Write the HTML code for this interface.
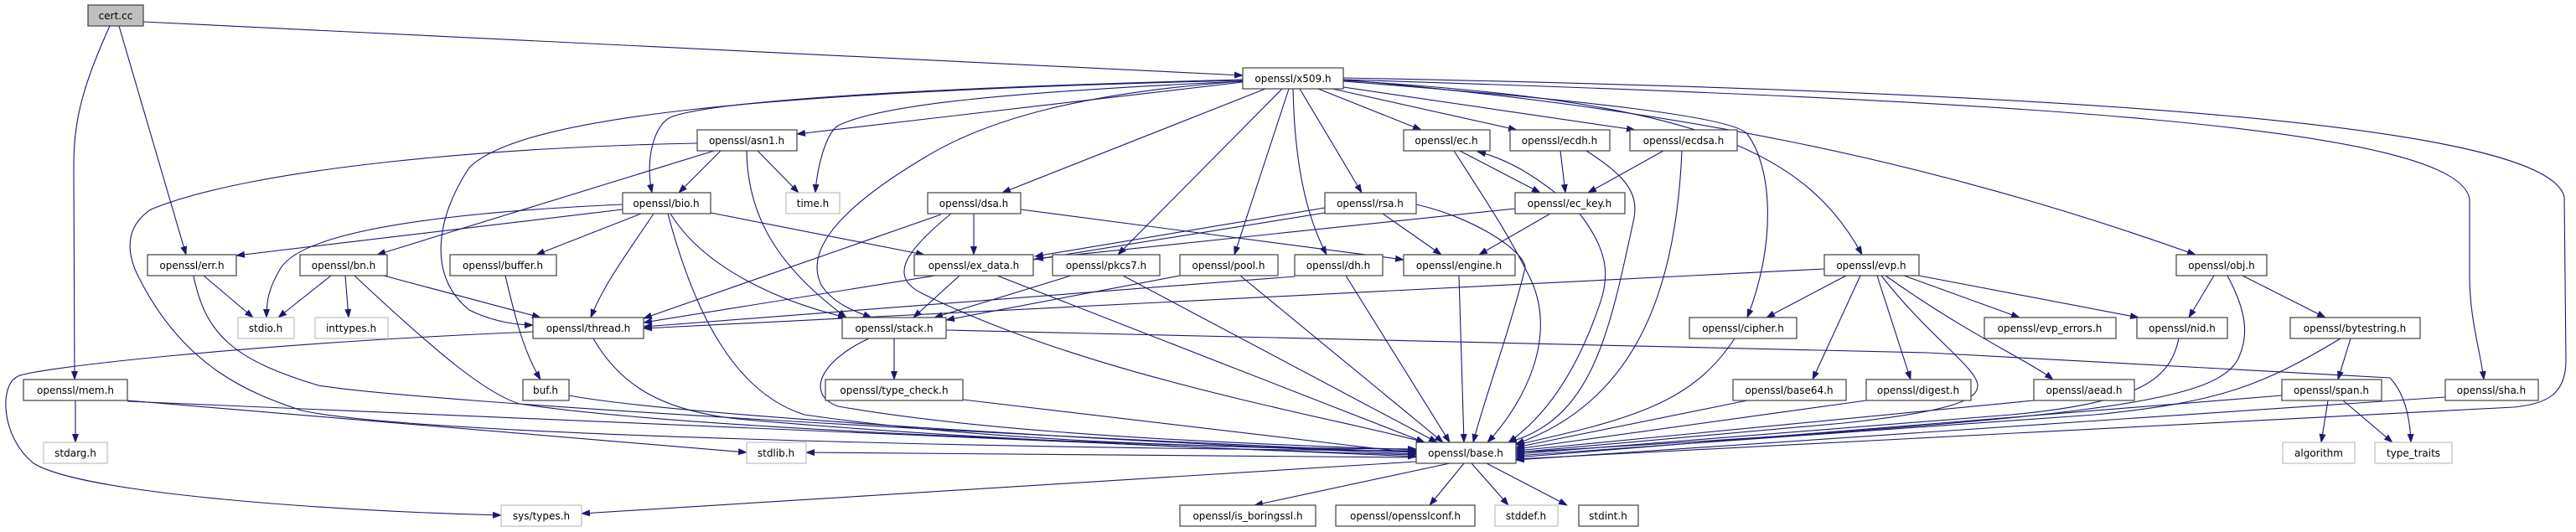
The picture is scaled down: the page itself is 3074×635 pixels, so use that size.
<!DOCTYPE html>
<html><head><meta charset="utf-8"><style>
html,body{margin:0;padding:0;background:#fff;}
svg{display:block;}
text{font-family:"DejaVu Sans","Liberation Sans",sans-serif;font-size:12px;fill:#000;}
</style></head><body>
<svg width="3074" height="635" viewBox="0 0 3074 635" xmlns="http://www.w3.org/2000/svg">
<defs><marker id="a" markerWidth="11" markerHeight="8" refX="10" refY="4" orient="auto" markerUnits="userSpaceOnUse"><path d="M0,0 L11,4 L0,8 z" fill="#191970"/></marker></defs>
<g fill="none" stroke="#191970" stroke-width="1.1" marker-end="url(#a)">
<path d="M171,26 L1483,90"/>
<path d="M142,31 L222,304"/>
<path d="M131,31 C95,110 88,150 88,200 L89,453"/>
<path d="M1483,98 L951,160"/>
<path d="M1483,95 C1100,105 850,120 800,140 C780,150 770,190 778,230"/>
<path d="M1483,97 C1200,110 1050,125 1000,150 C985,160 975,200 973,230"/>
<path d="M1483,96 C900,110 620,140 560,200 C520,260 510,330 560,370 C590,385 620,388 636,388"/>
<path d="M1483,97 C1300,110 1180,140 1100,190 C1000,250 960,300 980,340 C995,365 1030,375 1040,379"/>
<path d="M1510,106 L1196,230"/>
<path d="M1530,106 L1334,304"/>
<path d="M1538,106 L1473,304"/>
<path d="M1543,106 C1545,200 1560,260 1583,304"/>
<path d="M1551,106 L1625,230"/>
<path d="M1573,106 L1696,155"/>
<path d="M1590,106 L1810,155"/>
<path d="M1603,104 L1951,155"/>
<path d="M1603,97 C1900,120 2070,140 2085,160 C2115,200 2120,290 2085,379"/>
<path d="M1603,96 C2000,120 2150,170 2222,304"/>
<path d="M1603,95 C2000,130 2300,190 2620,304"/>
<path d="M1603,95 C2400,120 2940,150 2947,239 L2947,330 C2947,380 2960,420 2964,453"/>
<path d="M1603,93 C2500,110 3040,150 3060,235 L3062,430 C3062,470 3040,482 3000,486 L1809,548"/>
<path d="M860,180 L810,230"/>
<path d="M904,180 L953,230"/>
<path d="M891,180 C892,260 930,320 1010,379"/>
<path d="M852,180 L450,304"/>
<path d="M832,171 C600,175 300,200 180,250 C150,270 150,300 165,330 C220,440 300,470 360,490 C500,520 1200,535 1690,538"/>
<path d="M743,250 L282,305"/>
<path d="M743,244 C500,255 360,280 335,320 C320,345 318,360 318,379"/>
<path d="M765,255 L640,304"/>
<path d="M780,255 C750,300 720,340 705,379"/>
<path d="M800,255 C840,320 930,360 1010,379"/>
<path d="M848,254 L1103,304"/>
<path d="M797,255 C830,380 880,470 960,495 C1200,530 1500,535 1690,536"/>
<path d="M243,329 L302,379"/>
<path d="M231,329 C245,400 280,430 380,460 C500,480 1200,520 1690,540"/>
<path d="M395,329 L332,379"/>
<path d="M412,329 L416,379"/>
<path d="M458,329 L645,379"/>
<path d="M423,329 C520,420 580,470 620,482 C800,510 1300,530 1690,539"/>
<path d="M603,329 C615,380 625,420 645,453"/>
<path d="M679,472 C800,495 1300,525 1690,542"/>
<path d="M708,404 C740,460 790,490 880,500 C1100,520 1400,535 1690,543"/>
<path d="M636,396 C300,410 30,440 20,450 C0,460 0,520 40,553 C100,590 400,610 598,615"/>
<path d="M90,478 L90,528"/>
<path d="M152,478 L891,540"/>
<path d="M152,479 L1690,545"/>
<path d="M1162,255 L1162,304"/>
<path d="M1123,256 L768,380"/>
<path d="M1218,250 L1675,310"/>
<path d="M1135,255 C1080,300 1060,330 1100,350 C1300,450 1600,500 1700,528"/>
<path d="M1581,248 L1235,306"/>
<path d="M1581,254 L768,385"/>
<path d="M1650,255 L1720,304"/>
<path d="M1690,244 C1760,260 1820,300 1820,320 C1800,400 1770,480 1758,528"/>
<path d="M1742,180 L1838,230"/>
<path d="M1856,230 C1830,210 1800,190 1763,181"/>
<path d="M1735,180 C1780,250 1800,280 1825,330 C1860,400 1820,480 1775,528"/>
<path d="M1862,180 L1868,230"/>
<path d="M1893,180 C1940,210 1955,230 1950,260 C1920,400 1900,500 1800,528"/>
<path d="M1985,180 L1895,230"/>
<path d="M2007,180 C2000,350 1950,480 1809,530"/>
<path d="M1850,255 L1765,304"/>
<path d="M1808,249 L1235,309"/>
<path d="M1885,255 C1920,300 1920,330 1910,360 C1880,450 1840,500 1800,528"/>
<path d="M1145,329 L1090,379"/>
<path d="M1190,329 L1700,528"/>
<path d="M1278,329 L1115,379"/>
<path d="M1340,329 L1715,528"/>
<path d="M1408,329 L1129,382"/>
<path d="M1545,330 L768,390"/>
<path d="M2177,321 L768,392"/>
<path d="M1129,394 L2300,421 L2852,451 C2870,470 2876,500 2877,528"/>
<path d="M1480,329 L1722,528"/>
<path d="M1606,329 L1730,528"/>
<path d="M1741,329 L1747,528"/>
<path d="M1067,404 L1067,453"/>
<path d="M1037,404 C980,430 960,470 1000,485 C1200,520 1500,530 1690,537"/>
<path d="M1149,477 L1690,541"/>
<path d="M2203,329 L2108,379"/>
<path d="M2272,329 L2410,379"/>
<path d="M2290,329 L2552,379"/>
<path d="M2220,329 L2163,453"/>
<path d="M2240,329 L2280,453"/>
<path d="M2250,329 C2350,400 2420,430 2450,453"/>
<path d="M2245,329 C2300,400 2360,440 2360,460 C2360,475 2340,490 2200,505 L1809,540"/>
<path d="M2070,404 C2020,480 1950,500 1809,531"/>
<path d="M2085,478 L1809,534"/>
<path d="M2227,478 L1809,536"/>
<path d="M2427,478 L1809,538"/>
<path d="M2642,329 L2612,379"/>
<path d="M2676,329 L2775,379"/>
<path d="M2658,329 C2680,370 2685,400 2670,430 C2640,480 2500,500 1809,540"/>
<path d="M2600,404 C2590,450 2560,480 2400,495 L1809,542"/>
<path d="M2805,404 L2790,453"/>
<path d="M2793,404 C2700,460 2650,480 2500,495 L1809,544"/>
<path d="M2778,478 L2770,528"/>
<path d="M2796,478 L2855,528"/>
<path d="M2723,472 L1809,546"/>
<path d="M2918,474 L1809,549"/>
<path d="M1730,553 L1497,603"/>
<path d="M1747,553 L1706,603"/>
<path d="M1756,553 L1800,603"/>
<path d="M1774,553 L1870,603"/>
<path d="M1690,546 L962,540"/>
<path d="M1690,551 L694,613"/>
</g>
<g stroke-width="1.2">
<!-- boxes: x, y, w -->
<rect x="105" y="6" width="66" height="25" fill="#bfbfbf" stroke="#404040"/>
<rect x="1483" y="81" width="120" height="25" fill="#fff" stroke="#404040"/>
<rect x="832" y="155" width="119" height="25" fill="#fff" stroke="#404040"/>
<rect x="1675" y="155" width="103" height="25" fill="#fff" stroke="#404040"/>
<rect x="1802" y="155" width="119" height="25" fill="#fff" stroke="#404040"/>
<rect x="1945" y="155" width="128" height="25" fill="#fff" stroke="#404040"/>
<rect x="743" y="230" width="105" height="25" fill="#fff" stroke="#404040"/>
<rect x="938" y="230" width="64" height="25" fill="#fff" stroke="#bfbfbf"/>
<rect x="1107" y="230" width="111" height="25" fill="#fff" stroke="#404040"/>
<rect x="1581" y="230" width="109" height="25" fill="#fff" stroke="#404040"/>
<rect x="1808" y="230" width="131" height="25" fill="#fff" stroke="#404040"/>
<rect x="176" y="304" width="106" height="25" fill="#fff" stroke="#404040"/>
<rect x="358" y="304" width="104" height="25" fill="#fff" stroke="#404040"/>
<rect x="537" y="304" width="127" height="25" fill="#fff" stroke="#404040"/>
<rect x="1091" y="304" width="142" height="25" fill="#fff" stroke="#404040"/>
<rect x="1256" y="304" width="128" height="25" fill="#fff" stroke="#404040"/>
<rect x="1408" y="304" width="117" height="25" fill="#fff" stroke="#404040"/>
<rect x="1545" y="304" width="105" height="25" fill="#fff" stroke="#404040"/>
<rect x="1675" y="304" width="133" height="25" fill="#fff" stroke="#404040"/>
<rect x="2177" y="304" width="113" height="25" fill="#fff" stroke="#404040"/>
<rect x="2597" y="304" width="108" height="25" fill="#fff" stroke="#404040"/>
<rect x="284" y="379" width="67" height="25" fill="#fff" stroke="#bfbfbf"/>
<rect x="376" y="379" width="87" height="25" fill="#fff" stroke="#bfbfbf"/>
<rect x="636" y="379" width="132" height="25" fill="#fff" stroke="#404040"/>
<rect x="1005" y="379" width="124" height="25" fill="#fff" stroke="#404040"/>
<rect x="2016" y="379" width="128" height="25" fill="#fff" stroke="#404040"/>
<rect x="2368" y="379" width="157" height="25" fill="#fff" stroke="#404040"/>
<rect x="2550" y="379" width="108" height="25" fill="#fff" stroke="#404040"/>
<rect x="2733" y="379" width="155" height="25" fill="#fff" stroke="#404040"/>
<rect x="28" y="453" width="124" height="25" fill="#fff" stroke="#404040"/>
<rect x="624" y="453" width="55" height="25" fill="#fff" stroke="#404040"/>
<rect x="985" y="453" width="164" height="25" fill="#fff" stroke="#404040"/>
<rect x="2068" y="453" width="135" height="25" fill="#fff" stroke="#404040"/>
<rect x="2227" y="453" width="125" height="25" fill="#fff" stroke="#404040"/>
<rect x="2427" y="453" width="120" height="25" fill="#fff" stroke="#404040"/>
<rect x="2723" y="453" width="119" height="25" fill="#fff" stroke="#404040"/>
<rect x="2918" y="453" width="111" height="25" fill="#fff" stroke="#404040"/>
<rect x="52" y="528" width="76" height="25" fill="#fff" stroke="#bfbfbf"/>
<rect x="891" y="528" width="71" height="25" fill="#fff" stroke="#bfbfbf"/>
<rect x="1690" y="528" width="119" height="25" fill="#fff" stroke="#404040"/>
<rect x="2724" y="528" width="86" height="25" fill="#fff" stroke="#bfbfbf"/>
<rect x="2834" y="528" width="92" height="25" fill="#fff" stroke="#bfbfbf"/>
<rect x="598" y="603" width="96" height="25" fill="#fff" stroke="#bfbfbf"/>
<rect x="1408" y="603" width="162" height="25" fill="#fff" stroke="#404040"/>
<rect x="1594" y="603" width="166" height="25" fill="#fff" stroke="#404040"/>
<rect x="1784" y="603" width="75" height="25" fill="#fff" stroke="#bfbfbf"/>
<rect x="1884" y="603" width="71" height="25" fill="#fff" stroke="#404040"/>
</g>
<g text-anchor="middle">
<text x="138" y="23">cert.cc</text>
<text x="1543" y="98">openssl/x509.h</text>
<text x="891" y="172">openssl/asn1.h</text>
<text x="1726" y="172">openssl/ec.h</text>
<text x="1861" y="172">openssl/ecdh.h</text>
<text x="2009" y="172">openssl/ecdsa.h</text>
<text x="795" y="247">openssl/bio.h</text>
<text x="970" y="247">time.h</text>
<text x="1162" y="247">openssl/dsa.h</text>
<text x="1635" y="247">openssl/rsa.h</text>
<text x="1873" y="247">openssl/ec_key.h</text>
<text x="229" y="321">openssl/err.h</text>
<text x="410" y="321">openssl/bn.h</text>
<text x="600" y="321">openssl/buffer.h</text>
<text x="1162" y="321">openssl/ex_data.h</text>
<text x="1320" y="321">openssl/pkcs7.h</text>
<text x="1466" y="321">openssl/pool.h</text>
<text x="1597" y="321">openssl/dh.h</text>
<text x="1741" y="321">openssl/engine.h</text>
<text x="2233" y="321">openssl/evp.h</text>
<text x="2651" y="321">openssl/obj.h</text>
<text x="317" y="396">stdio.h</text>
<text x="419" y="396">inttypes.h</text>
<text x="702" y="396">openssl/thread.h</text>
<text x="1067" y="396">openssl/stack.h</text>
<text x="2080" y="396">openssl/cipher.h</text>
<text x="2446" y="396">openssl/evp_errors.h</text>
<text x="2604" y="396">openssl/nid.h</text>
<text x="2810" y="396">openssl/bytestring.h</text>
<text x="90" y="470">openssl/mem.h</text>
<text x="651" y="470">buf.h</text>
<text x="1067" y="470">openssl/type_check.h</text>
<text x="2135" y="470">openssl/base64.h</text>
<text x="2289" y="470">openssl/digest.h</text>
<text x="2487" y="470">openssl/aead.h</text>
<text x="2782" y="470">openssl/span.h</text>
<text x="2973" y="470">openssl/sha.h</text>
<text x="90" y="545">stdarg.h</text>
<text x="926" y="545">stdlib.h</text>
<text x="1749" y="545">openssl/base.h</text>
<text x="2767" y="545">algorithm</text>
<text x="2880" y="545">type_traits</text>
<text x="646" y="620">sys/types.h</text>
<text x="1489" y="620">openssl/is_boringssl.h</text>
<text x="1677" y="620">openssl/opensslconf.h</text>
<text x="1821" y="620">stddef.h</text>
<text x="1919" y="620">stdint.h</text>
</g>
</svg>
</body></html>
